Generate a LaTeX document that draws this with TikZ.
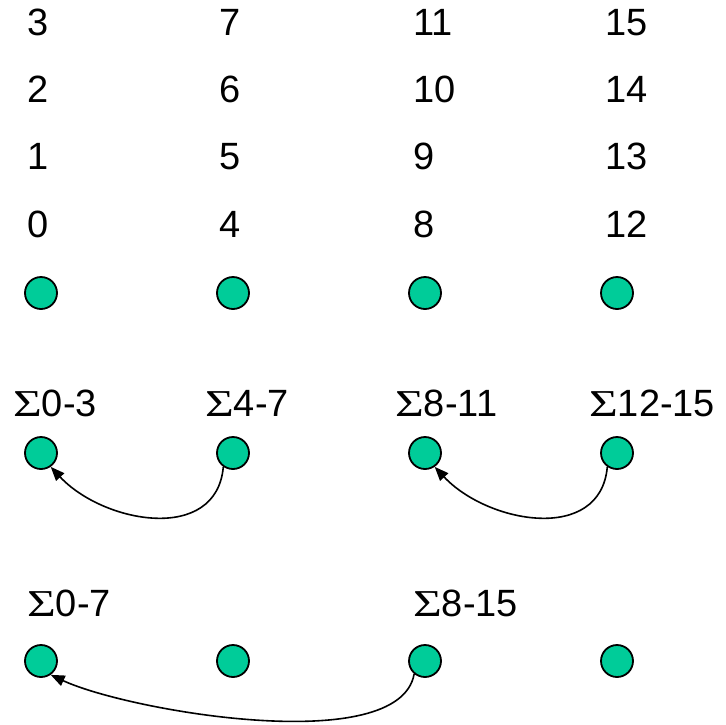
\documentclass[tikz,border=0pt]{standalone}
\usepackage{fontspec}
\setmainfont{Liberation Sans}
\newfontfamily\sigmaFont{Liberation Serif}
\usetikzlibrary{arrows.meta,positioning}
\definecolor{dotGreen}{HTML}{00CC99}
\newcommand{\sumSym}{\scalebox{1.3}[1]{\sigmaFont Σ}}

\begin{document}
\begin{tikzpicture}[
            x=1pt, y=1pt,
            dot/.style={
                    draw=black,
                    fill=dotGreen,
                    circle,
                    line width=1.8pt,
                    minimum size=32pt,
                    inner sep=0pt
                },
            numLabel/.style={
                    anchor=base west,
                    inner sep=0pt,
                    font=\fontsize{38}{42}\selectfont
                },
            sumLabel/.style={
                    anchor=base west,
                    inner sep=0pt,
                    font=\fontsize{38}{42}\selectfont
                },
            arrow/.style={
            -{Triangle[length=14pt,width=11pt]},
            color=black,
            line width=1.6pt
            }
            ]

            \useasboundingbox (0,0) rectangle (726,-724);

            % 1. Values held by each thread (top rows)
            \node[numLabel] (num3)  at (27,-35)  {3};
            \node[numLabel] (num2)  at (27,-102) {2};
            \node[numLabel] (num1)  at (27,-169) {1};
            \node[numLabel] (num0)  at (27,-237) {0};

            \node[numLabel] (num7)  at (219,-35)  {7};
            \node[numLabel] (num6)  at (219,-102) {6};
            \node[numLabel] (num5)  at (219,-169) {5};
            \node[numLabel] (num4)  at (219,-237) {4};

            \node[numLabel] (num11) at (413,-35)  {11};
            \node[numLabel] (num10) at (413,-102) {10};
            \node[numLabel] (num9)  at (413,-169) {9};
            \node[numLabel] (num8)  at (413,-237) {8};

            \node[numLabel] (num15) at (605,-35)  {15};
            \node[numLabel] (num14) at (605,-102) {14};
            \node[numLabel] (num13) at (605,-169) {13};
            \node[numLabel] (num12) at (605,-237) {12};

            % 2. Threads (first row)
            \node[dot] (dotTop1) at (41,-293)  {};
            \node[dot] (dotTop2) at (233,-293) {};
            \node[dot] (dotTop3) at (425,-293) {};
            \node[dot] (dotTop4) at (617,-293) {};

            % 3. Partial sums of four values (second row)
            \node[sumLabel] (sumMid1) at (13,-416)  {\sumSym0-3};
            \node[sumLabel] (sumMid2) at (205,-416) {\sumSym4-7};
            \node[sumLabel] (sumMid3) at (395,-416) {\sumSym8-11};
            \node[sumLabel] (sumMid4) at (589,-416) {\sumSym12-15};

            \node[dot] (dotMid1) at (41,-453)  {};
            \node[dot] (dotMid2) at (233,-453) {};
            \node[dot] (dotMid3) at (425,-453) {};
            \node[dot] (dotMid4) at (617,-453) {};

            % 4. Partial sums of eight values (third row)
            \node[sumLabel] (sumLow1) at (27,-616)  {\sumSym0-7};
            \node[sumLabel] (sumLow3) at (413,-616) {\sumSym8-15};

            \node[dot] (dotLow1) at (41,-661)  {};
            \node[dot] (dotLow2) at (233,-661) {};
            \node[dot] (dotLow3) at (425,-661) {};
            \node[dot] (dotLow4) at (617,-661) {};

            % --- REDUCTION STEPS ---

            % 5. Pairwise additions, second row
            \draw[arrow] (dotMid2.-125) to[out=-95, in=-47, looseness=1.15] (dotMid1.-55);
            \draw[arrow] (dotMid4.-125) to[out=-95, in=-47, looseness=1.15] (dotMid3.-55);

            % 6. Addition across the halves, third row
            \draw[arrow] (dotLow3.-130) to[out=-100, in=-25, looseness=0.6] (dotLow1.-55);

        \end{tikzpicture}
\end{document}
